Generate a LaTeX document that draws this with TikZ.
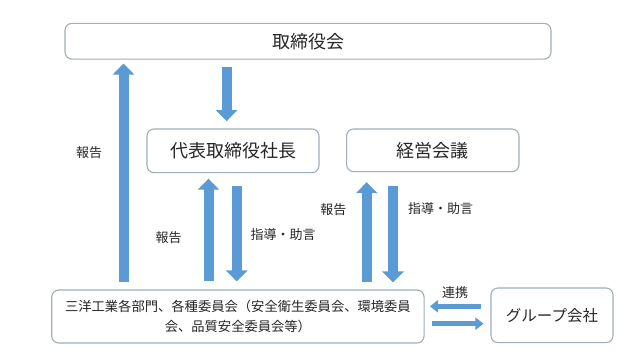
\documentclass[tikz,border=0pt]{standalone}
\usepackage{fontspec}
\setmainfont{Noto Sans CJK JP}
\usetikzlibrary{arrows.meta,calc}
\definecolor{ablue}{HTML}{5B9BD5}
\definecolor{bgray}{HTML}{A3ADBA}
\definecolor{tgray}{HTML}{262626}
\begin{document}
\begin{tikzpicture}[x=1pt,y=-1pt,
  box/.style={draw=bgray, line width=1.1pt, rounded corners=7pt, fill=white, inner sep=0pt, text=tgray, align=center},
  lbl/.style={inner sep=0pt, text=tgray, font=\fontsize{13}{16}\selectfont},
  varrow/.style={draw=ablue, line width=10pt, -{Triangle[length=11pt,width=21pt]}},
  harrow/.style={draw=ablue, line width=5pt, -{Triangle[length=8pt,width=12pt]}}]
\useasboundingbox[fill=white] (0,0) rectangle (640,359);
% boxes
\node[box, minimum width=486pt, minimum height=35.7pt, font=\fontsize{18}{22}\selectfont] (board) at (308,41.2) {取締役会};
\node[box, minimum width=172pt, minimum height=43.7pt, font=\fontsize{18}{22}\selectfont] (ceo) at (233,150.8) {代表取締役社長};
\node[box, minimum width=172.3pt, minimum height=42.7pt, font=\fontsize{18}{22}\selectfont] (mgmt) at (432.8,150.3) {経営会議};
\node[box, minimum width=372.3pt, minimum height=53pt, font=\fontsize{13.3}{20}\selectfont] (bot) at (237.9,316.5) {三洋工業各部門、各種委員会（安全衛生委員会、環境委員\\会、品質安全委員会等）};
\node[box, minimum width=122pt, minimum height=54.7pt, font=\fontsize{15.5}{19}\selectfont] (group) at (552,315.3) {グループ会社};
% x / y positions of arrows
\coordinate (xa) at (123.5,0);
\coordinate (xb) at (226.7,0);
\coordinate (xc) at (208.5,0);
\coordinate (xd) at (236.7,0);
\coordinate (xe) at (366.7,0);
\coordinate (xf) at (393,0);
\coordinate (yg) at (0,306.3);
\coordinate (yh) at (0,323.7);
% vertical arrows
\draw[varrow] ($(bot.north -| xa)+(0,-7.3)$) -- ($(board.south -| xa)+(0,4)$);
\draw[varrow] ($(board.south -| xb)+(0,7.7)$) -- ($(ceo.north -| xb)+(0,-7.3)$);
\draw[varrow] ($(bot.north -| xc)+(0,-8)$) -- ($(ceo.south -| xc)+(0,5.5)$);
\draw[varrow] ($(ceo.south -| xd)+(0,12.3)$) -- ($(bot.north -| xd)+(0,-8)$);
\draw[varrow] ($(bot.north -| xe)+(0,-7)$) -- ($(mgmt.south -| xe)+(0,10)$);
\draw[varrow] ($(mgmt.south -| xf)+(0,13.3)$) -- ($(bot.north -| xf)+(0,-7)$);
% horizontal arrows
\draw[harrow] ($(group.west |- yg)+(-9,0)$) -- ($(bot.east |- yg)+(5.3,0)$);
\draw[harrow] ($(bot.east |- yh)+(7.7,0)$) -- ($(group.west |- yh)+(-7,0)$);
% labels
\node[lbl] (l1) at (89,153) {報告};
\node[lbl] (l2) at (168.5,238) {報告};
\node[lbl] (l3) at (283,235) {指導・助言};
\node[lbl] (l4) at (333.4,210) {報告};
\node[lbl] (l5) at (440.5,209) {指導・助言};
\node[lbl] (l6) at (455,293) {連携};
\end{tikzpicture}
\end{document}
